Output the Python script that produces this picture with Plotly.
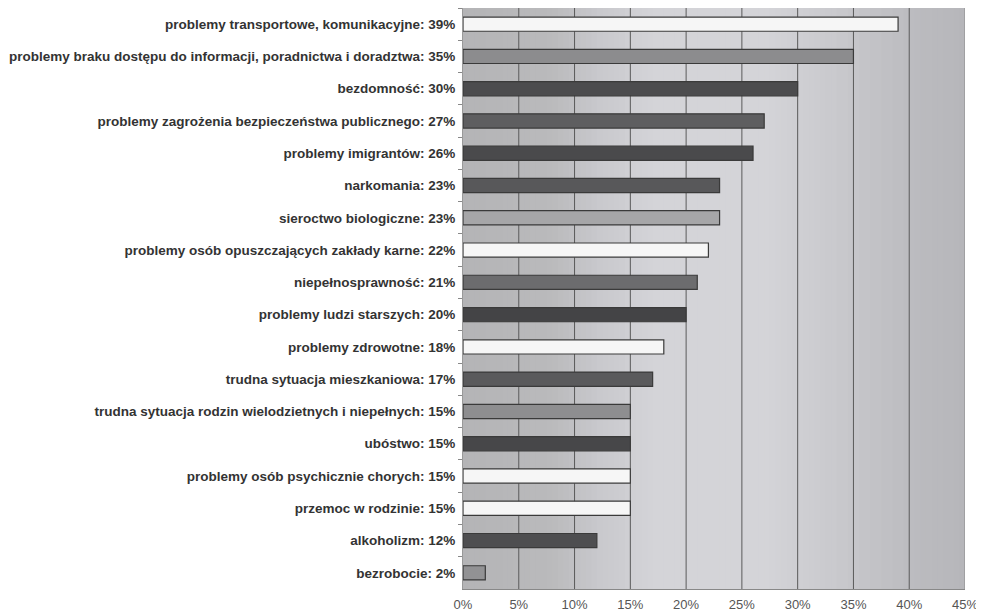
import plotly.graph_objects as go

categories = [
    "problemy transportowe, komunikacyjne",
    "problemy braku dostępu do informacji, poradnictwa i doradztwa",
    "bezdomność",
    "problemy zagrożenia bezpieczeństwa publicznego",
    "problemy imigrantów",
    "narkomania",
    "sieroctwo biologiczne",
    "problemy osób opuszczających zakłady karne",
    "niepełnosprawność",
    "problemy ludzi starszych",
    "problemy zdrowotne",
    "trudna sytuacja mieszkaniowa",
    "trudna sytuacja rodzin wielodzietnych i niepełnych",
    "ubóstwo",
    "problemy osób psychicznie chorych",
    "przemoc w rodzinie",
    "alkoholizm",
    "bezrobocie",
]
values = [39, 35, 30, 27, 26, 23, 23, 22, 21, 20, 18, 17, 15, 15, 15, 15, 12, 2]
bar_colors = [
    "#f6f6f6", "#8c8c8e", "#4c4c4e", "#5e5e60", "#4a4a4c", "#58585a",
    "#a6a6a8", "#f6f6f6", "#6c6c6e", "#444446", "#f6f6f6", "#5a5a5c",
    "#8e8e90", "#474749", "#f6f6f6", "#f6f6f6", "#4e4e50", "#929294",
]
x_ticks = [0, 5, 10, 15, 20, 25, 30, 35, 40, 45]
x_tick_labels = [f"{t}%" for t in x_ticks]

labels = [f"{c}: {v}%" for c, v in zip(categories, values)]

# background gradient (style only): key positions/colors, rendered as overlapping strips
grad_pos = [0, 8, 12, 17, 27, 33, 40, 45]
grad_rgb = [(180, 180, 182), (186, 186, 188), (200, 200, 204), (212, 212, 216),
            (212, 212, 216), (202, 202, 206), (188, 188, 192), (182, 182, 186)]


def grad_color(x):
    for i in range(len(grad_pos) - 1):
        if grad_pos[i] <= x <= grad_pos[i + 1]:
            f = (x - grad_pos[i]) / (grad_pos[i + 1] - grad_pos[i])
            c = [round(a + (b - a) * f) for a, b in zip(grad_rgb[i], grad_rgb[i + 1])]
            return f"rgb({c[0]},{c[1]},{c[2]})"
    return "rgb(182,182,186)"


fig = go.Figure()
fig.add_trace(go.Bar(
    y=labels, x=values, orientation="h",
    marker=dict(color=bar_colors, line=dict(color="#3a3a3a", width=1.2)),
    width=0.44,
))

shapes = []
step = 0.5
n = int(45 / step)
for i in range(n):
    x0 = i * step
    shapes.append(dict(type="rect", xref="x", yref="paper",
                       x0=x0, x1=min(45, x0 + step * 2), y0=0, y1=1,
                       fillcolor=grad_color(x0 + step / 2), line=dict(width=0), layer="below"))
for t in x_ticks[1:-1]:
    shapes.append(dict(type="line", xref="x", yref="paper", x0=t, x1=t, y0=0, y1=1,
                       line=dict(color="#5a5a5a", width=1), layer="below"))
shapes.append(dict(type="line", xref="x", yref="paper", x0=45, x1=45, y0=0, y1=1,
                   line=dict(color="#8a8a8a", width=1), layer="below"))
fig.update_layout(shapes=shapes)

fig.update_layout(
    width=984, height=615,
    margin=dict(l=455, r=27, t=0, b=34),
    paper_bgcolor="white", plot_bgcolor="rgba(0,0,0,0)",
    showlegend=False, bargap=0.5,
    font=dict(family="Liberation Sans, Arial", color="#333333"),
)
fig.update_xaxes(
    range=[0, 45], tickvals=x_ticks, ticktext=x_tick_labels,
    showgrid=False, zeroline=False, showline=True, linecolor="#888888", linewidth=1,
    ticks="", tickfont=dict(size=13, color="#555555"), ticklabelstandoff=3, fixedrange=True,
)
fig.update_yaxes(
    autorange="reversed", showgrid=False, showline=True, linecolor="#999999",
    ticks="outside", tickson="boundaries", ticklen=4, tickcolor="#888888",
    tickfont=dict(size=13.5, color="#333333", family="Liberation Sans, Arial", weight="bold"),
    ticklabelstandoff=4, fixedrange=True,
)
fig.write_html("out.html")
